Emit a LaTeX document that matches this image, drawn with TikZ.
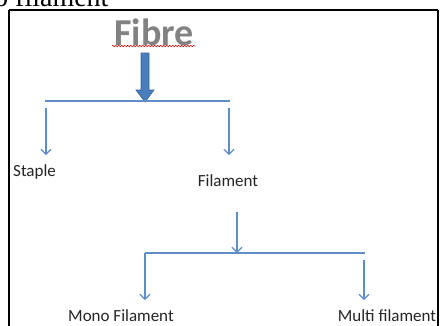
\documentclass[tikz,border=0pt]{standalone}
\usepackage{fontspec}
\setmainfont{Carlito}
\newfontfamily\serifface{Liberation Serif}
\usetikzlibrary{arrows.meta,decorations.pathmorphing}
\definecolor{linkblue}{HTML}{5F8DC8}
\definecolor{fatblue}{HTML}{4A7EBB}
\definecolor{fatedge}{HTML}{36629A}
\definecolor{titlegray}{HTML}{828282}
\tikzset{
  link/.style={draw=linkblue, line width=1.1pt},
  linkarrow/.style={link, -{Straight Barb[length=5pt,width=10pt,line width=1.1pt]}},
  label/.style={inner sep=0pt, font=\fontsize{17}{19}\selectfont, text=black!85},
}
\begin{document}
\begin{tikzpicture}[x=1pt,y=-1pt]
\useasboundingbox (0,0) rectangle (440,325);
\clip (0,0) rectangle (440,325);
\fill[white] (0,0) rectangle (440,325);
% cropped caption at the top
\node[anchor=base west, inner sep=0pt, font=\serifface\fontsize{28}{30}\selectfont] (cap) at (-6,6) {o filament};
% frame
\draw[line width=2pt] (9,10) -- (438,10) (9,10) -- (9,340) (438,10) -- (438,340);
% title
\node[inner sep=0pt, font=\bfseries\fontsize{38}{40}\selectfont, text=titlegray] (fibre) at (154,32) {Fibre};
\draw[red!85!black, line width=0.6pt, decorate, decoration={zigzag, segment length=3pt, amplitude=0.8pt}] (112,46) -- (195,46);
% thick arrow
\coordinate (fa) at (145,53);
\coordinate (fb) at (145,102);
\filldraw[fill=fatblue, draw=fatedge, line width=0.6pt]
  (141,53) -- (149,53) -- (149,90) -- (154,90) -- (145,102) -- (136,90) -- (141,90) -- cycle;
% first split
\coordinate (h1l) at (45,101);
\coordinate (h1r) at (230,101);
\draw[link] (h1l) -- (h1r);
\coordinate (s1) at (46,108);
\coordinate (s2) at (229,108);
\node[label, anchor=west] (staple) at (13,172) {Staple};
\node[label] (filament) at (228,181) {Filament};
\draw[linkarrow] (s1) -- (46,155);
\draw[linkarrow] (s2) -- (229,155);
% second split
\coordinate (f1) at (237,212);
\coordinate (h2c) at (237,253);
\draw[linkarrow] (f1) -- (h2c);
\coordinate (h2l) at (145,253);
\coordinate (h2r) at (365,253);
\draw[link] (h2l) -- (h2r);
\draw[linkarrow] (h2l) -- (145,300);
\coordinate (m2) at (364,260);
\draw[linkarrow] (m2) -- (364,300);
\node[label] (mono) at (121,316) {Mono Filament};
\node[label] (multi) at (387,316) {Multi filament};
\end{tikzpicture}
\end{document}
